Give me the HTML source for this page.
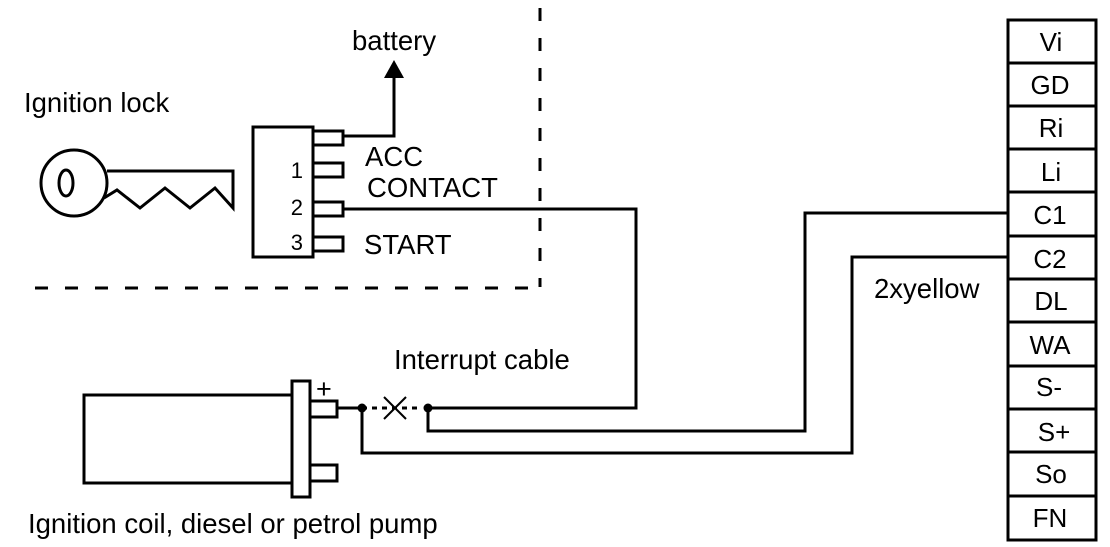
<!DOCTYPE html>
<html><head><style>
html,body{margin:0;padding:0;background:#fff;}
svg{display:block;}
text{font-family:"Liberation Sans",Arial,sans-serif;fill:#000;}
</style></head><body>
<svg width="1110" height="547" viewBox="0 0 1110 547" xmlns="http://www.w3.org/2000/svg">
<g stroke="#000" stroke-width="3" fill="none">
  <line x1="540" y1="8" x2="540" y2="287" stroke-dasharray="13,17"/>
  <line x1="35" y1="288" x2="540" y2="288" stroke-dasharray="13,17"/>
  <circle cx="74" cy="183" r="33"/>
  <ellipse cx="66" cy="183" rx="7" ry="13"/>
  <polyline points="107,171 233,171 233,208 215,188 190,208 165,188 140,208 117,190 104,198"/>
  <rect x="253" y="127" width="60" height="130"/>
  <rect x="313" y="131" width="30" height="14"/>
  <rect x="313" y="163" width="30" height="14"/>
  <rect x="313" y="202" width="30" height="14"/>
  <rect x="313" y="237" width="30" height="14"/>
  <polyline points="343,136 394,136 394,75"/>
  <polyline points="343,209 636,209 636,408 428,408"/>
  <rect x="84" y="395" width="208" height="88"/>
  <rect x="292" y="381" width="18" height="116"/>
  <rect x="310" y="401" width="27" height="16"/>
  <rect x="310" y="465" width="27" height="16"/>
  <line x1="337" y1="408" x2="362" y2="408"/>
  <line x1="362" y1="408" x2="418" y2="408" stroke-dasharray="5,5"/>
  <line x1="384" y1="397" x2="406" y2="419" stroke-width="2"/>
  <line x1="406" y1="397" x2="384" y2="419" stroke-width="2"/>
  <polyline points="428,408 428,431 805,431 805,213 1008,213"/>
  <polyline points="362,408 362,453 852,453 852,257 1008,257"/>
  <rect x="1008" y="20" width="88" height="520"/>
  <line x1="1008" y1="63" x2="1096" y2="63"/>
  <line x1="1008" y1="106" x2="1096" y2="106"/>
  <line x1="1008" y1="149" x2="1096" y2="149"/>
  <line x1="1008" y1="192" x2="1096" y2="192"/>
  <line x1="1008" y1="236" x2="1096" y2="236"/>
  <line x1="1008" y1="279" x2="1096" y2="279"/>
  <line x1="1008" y1="322" x2="1096" y2="322"/>
  <line x1="1008" y1="366" x2="1096" y2="366"/>
  <line x1="1008" y1="409" x2="1096" y2="409"/>
  <line x1="1008" y1="452" x2="1096" y2="452"/>
  <line x1="1008" y1="496" x2="1096" y2="496"/>
</g>
<polygon points="384,78 404,78 394,60" fill="#000"/>
<circle cx="362" cy="408" r="4.5" fill="#000"/>
<circle cx="428" cy="408" r="4.5" fill="#000"/>
<g font-size="27.5">
  <text x="352" y="50">battery</text>
  <text x="24" y="112">Ignition lock</text>
  <text x="365" y="166">ACC</text>
  <text x="367" y="197">CONTACT</text>
  <text x="364" y="254">START</text>
  <text x="394" y="369">Interrupt cable</text>
  <text x="28" y="533">Ignition coil, diesel or petrol pump</text>
  <text x="874" y="298">2xyellow</text>
  <text x="316" y="398" font-size="27">+</text>
</g>
<g font-size="22">
  <text x="303" y="178" text-anchor="end">1</text>
  <text x="303" y="215" text-anchor="end">2</text>
  <text x="303" y="250" text-anchor="end">3</text>
</g>
<g font-size="26" text-anchor="middle">
  <text x="1051" y="51">Vi</text>
  <text x="1050" y="94">GD</text>
  <text x="1051" y="137">Ri</text>
  <text x="1051" y="181">Li</text>
  <text x="1050" y="224">C1</text>
  <text x="1050" y="268">C2</text>
  <text x="1051" y="310">DL</text>
  <text x="1050" y="354">WA</text>
  <text x="1049" y="396">S-</text>
  <text x="1054" y="441">S+</text>
  <text x="1051" y="483">So</text>
  <text x="1050" y="527">FN</text>
</g>
</svg>
</body></html>
